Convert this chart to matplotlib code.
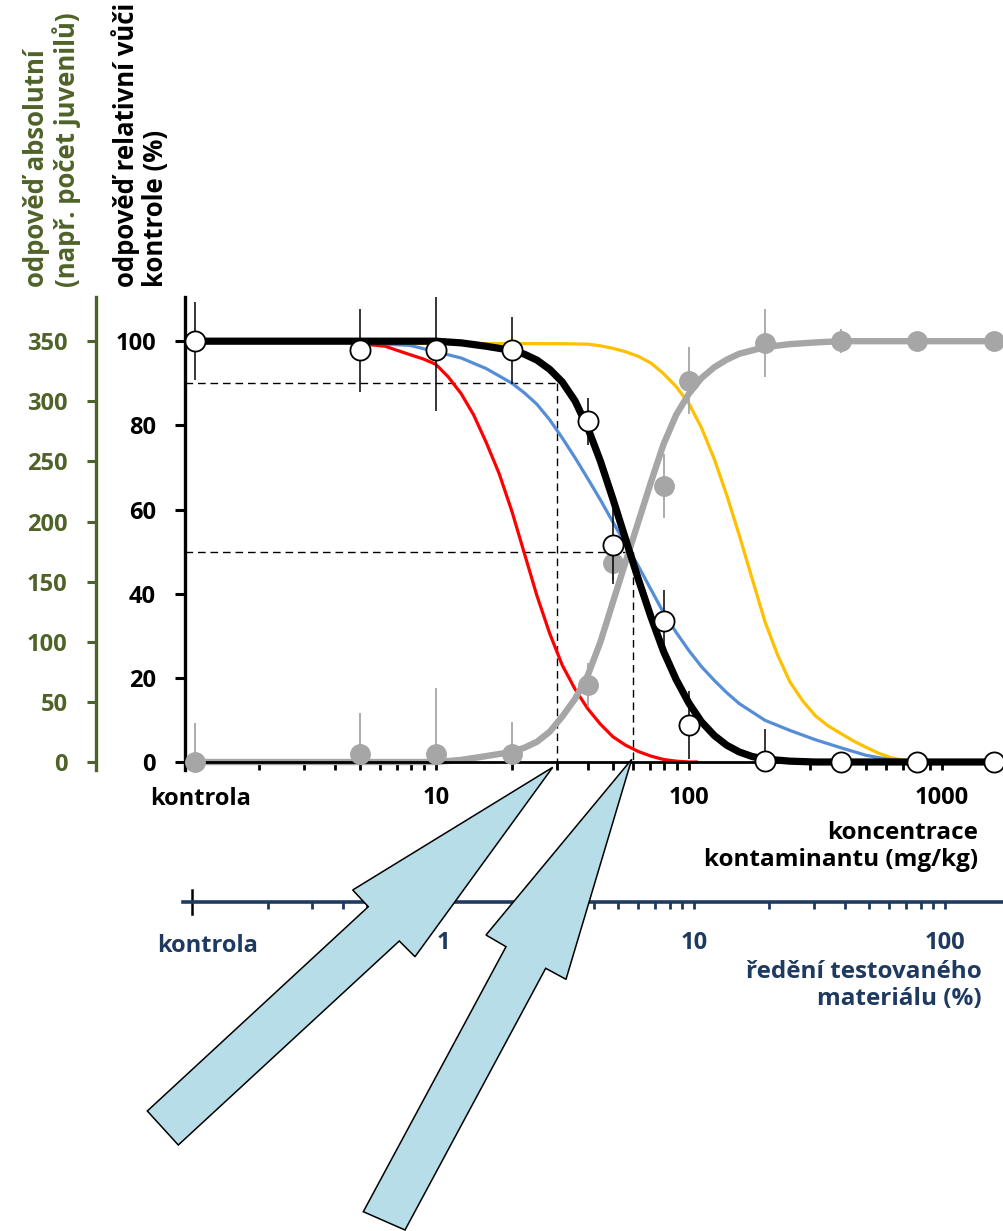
import matplotlib
matplotlib.use("Agg")
from matplotlib import pyplot as plt
import matplotlib.patches as patches
from matplotlib.ticker import FixedLocator, LogLocator, NullFormatter

plt.rcParams['font.family'] = ['Open Sans', 'DejaVu Sans']
plt.rcParams['font.weight'] = 'bold'

W, H = 1004, 1231

green = '#4F6228'
navy = '#1F3A60'
grey = '#A6A6A6'

# tested concentrations (mg/kg); the control is drawn at control_pos on the log axis
control_pos = 1.12
conc = [control_pos, 5, 10, 20, 40, 50, 80, 100, 200, 400, 800, 1600]
rel_resp = [100, 97.8, 97.8, 97.8, 81, 51.5, 33.4, 8.8, 0.3, 0, 0, 0]
rel_err = [9.3, 9.9, 14.5, 8, 5.6, 9.3, 7.5, 8, 7.6, 0, 0, 0]
inc_resp = [0, 2, 2, 2, 18.3, 47.3, 65.6, 90.6, 99.6, 100, 100, 100]
inc_err = [9.3, 9.7, 15.6, 7.6, 5.2, 4, 7.7, 8, 8, 2.8, 0, 0]

# fitted dose-response curves
black_conc = [control_pos, 5, 10, 12.6, 15.8, 20, 22.4, 25.1, 28.2, 31.6, 35.5, 39.8, 44.7,
              50.1, 56.2, 63.1, 70.8, 79.4, 89.1, 100, 112, 126, 141, 158, 178, 200,
              251, 316, 1600]
black_resp = [100, 100, 100, 99.6, 98.8, 97.8, 96.9, 95.5, 93.3, 90.3, 85.8, 79.5, 71.5,
              62.5, 53, 43.5, 34.5, 26.3, 19.6, 14, 9.6, 6.3, 4.0, 2.4, 1.3, 0.7,
              0.2, 0, 0]

grey_conc = [control_pos, 10, 12.6, 15.8, 20, 22.4, 25.1, 28.2, 31.6, 35.5, 39.8, 44.7,
             50.1, 56.2, 63.1, 70.8, 79.4, 89.1, 100, 112, 126, 141, 158, 200, 251,
             316, 398, 1600]
grey_resp = [0, 0, 0.5, 1.4, 2.4, 3.4, 4.8, 7.2, 10.8, 15, 20.5, 28.5,
             38, 47.5, 57, 66.5, 75.5, 82.5, 87.5, 91.2, 93.8, 95.6, 97, 98.6, 99.3,
             99.7, 100, 100]

red_conc = [5, 6.3, 7.9, 8.9, 10, 11.2, 12.6, 14.1, 15.8, 17.8, 20, 22.4, 25.1, 28.2,
            31.6, 35.5, 39.8, 44.7, 50.1, 56.2, 63.1, 70.8, 79.4, 89.1, 100, 107]
red_resp = [99.4, 98.8, 96.8, 95.8, 94.5, 91.5, 87.5, 82.5, 76, 68.5, 59.5, 49.5, 39.5, 30.5,
            23, 17.3, 12.7, 9, 6, 4, 2.5, 1.4, 0.6, 0.2, 0, 0]

blue_conc = [5, 7.9, 10, 12.6, 15.8, 20, 22.4, 25.1, 28.2, 31.6, 35.5, 39.8, 44.7, 50.1,
             56.2, 63.1, 70.8, 79.4, 89.1, 100, 112, 126, 141, 158, 200, 251, 316,
             398, 501, 631, 794]
blue_resp = [99.6, 99, 97.5, 96, 93.5, 90, 87.7, 85, 81.3, 77, 72.3, 67.4, 62.3, 57,
             51.8, 46.6, 41, 35.5, 30.8, 26.5, 22.7, 19.4, 16.5, 13.9, 9.9, 7.5, 5.3,
             3.4, 1.6, 0.5, 0]

yellow_conc = [5, 31.6, 39.8, 44.7, 50.1, 56.2, 63.1, 70.8, 79.4, 89.1, 100, 112, 126,
               141, 158, 178, 200, 224, 251, 282, 316, 355, 398, 447, 501, 562, 631,
               708, 794]
yellow_resp = [99.5, 99.4, 99.3, 98.9, 98.3, 97.5, 96.4, 94.8, 92.3, 89.2, 85.2, 79.5, 72,
               63.5, 54, 43.5, 33.3, 25.5, 19, 14.5, 11, 8.6, 6.8, 5, 3.5, 2.1, 1.0,
               0.4, 0]

# EC10 / EC50 read-outs
ec_levels = [90, 50]
ec_conc = [30, 60]

rel_ticks = [0, 20, 40, 60, 80, 100]
abs_ticks = [0, 50, 100, 150, 200, 250, 300, 350]
abs_max = 350          # absolute response equal to 100 % of control
conc_ticks = [10, 100, 1000]
dil_ticks = [1, 10, 100]
dil_control = 0.1

fig = plt.figure(figsize=(W / 100, H / 100), dpi=100)
fig.patch.set_facecolor('white')


def fx(px):
    return px / W


def fy(py):
    return 1 - py / H


ax = fig.add_axes([fx(185), fy(762), fx(1004 - 185), 465 / H])
ax.set_xscale('log')
xmin = 1.02
ax.set_xlim(xmin, 1760)
ymax = 110.5
ax.set_ylim(0, ymax)
ax.patch.set_visible(False)

for s in ['top', 'right']:
    ax.spines[s].set_visible(False)
ax.spines['left'].set_linewidth(2.4)
ax.spines['left'].set_bounds(-2, ymax)
ax.spines['bottom'].set_linewidth(2)

# dashed read-out lines
for lev, c in zip(ec_levels, ec_conc):
    ax.plot([xmin, c], [lev, lev], color='black', lw=1.0, dashes=(5.5, 3.5), zorder=1.5)
    ax.plot([c, c], [lev, 0], color='black', lw=1.0, dashes=(5.5, 3.5), zorder=1.5)

ax.plot(yellow_conc, yellow_resp, color='#FFC000', lw=2.3, zorder=2, clip_on=False)
ax.plot(blue_conc, blue_resp, color='#558ED5', lw=2.3, zorder=2.1, clip_on=False)
ax.plot(red_conc, red_resp, color='#FF0000', lw=2.3, zorder=2.2, clip_on=False)
ax.plot(grey_conc, grey_resp, color=grey, lw=4.6, zorder=2.5, clip_on=False,
        solid_joinstyle='round')
ax.plot(black_conc, black_resp, color='black', lw=5.2, zorder=3, clip_on=False,
        solid_joinstyle='round')

ax.errorbar(conc, inc_resp, yerr=inc_err, fmt='none', ecolor=grey, elinewidth=1.3, zorder=3.5)
ax.plot(conc, inc_resp, 'o', color=grey, ms=14, mec=grey, zorder=3.6, clip_on=False)
ax.errorbar(conc, rel_resp, yerr=rel_err, fmt='none', ecolor='black', elinewidth=1.1, zorder=3.8)
ax.plot(conc, rel_resp, 'o', mfc='white', mec='black', mew=1.3, ms=14.5, zorder=4, clip_on=False)

ax.set_yticks(rel_ticks)
ax.tick_params(axis='y', direction='out', length=7, width=2.2, pad=14, labelsize=17,
               colors='black')
ax.xaxis.set_major_locator(FixedLocator(conc_ticks))
ax.set_xticklabels([str(t) for t in conc_ticks])
ax.xaxis.set_minor_locator(LogLocator(base=10, subs=range(2, 10)))
ax.xaxis.set_minor_formatter(NullFormatter())
ax.tick_params(axis='x', which='both', direction='out', length=6, width=2, pad=11,
               labelsize=17)

# absolute response axis (green)
axg = ax.twinx()
axg.set_ylim(0, abs_max * ymax / 100)
axg.yaxis.set_ticks_position('left')
for s in ['top', 'right', 'bottom']:
    axg.spines[s].set_visible(False)
axg.spines['left'].set_visible(True)
axg.spines['left'].set_position(('axes', -89 / 819))
axg.spines['left'].set_color(green)
axg.spines['left'].set_linewidth(2.4)
axg.spines['left'].set_bounds(-7, abs_max * ymax / 100)
axg.set_yticks(abs_ticks)
axg.yaxis.set_minor_locator(FixedLocator([0]))
axg.tick_params(axis='y', which='major', direction='out', length=6.5, width=2.2, pad=14,
                labelsize=17, colors=green)
axg.tick_params(axis='y', which='minor', direction='in', length=7, width=2.2, color=green)

# dilution axis (navy)
axd = fig.add_axes([fx(183), fy(901.7 + 20), fx(821), 40 / H])
axd.patch.set_visible(False)
axd.set_xscale('log')
axd.set_xlim(0.092, 172)
axd.set_ylim(-1, 1)
for s in ['top', 'right', 'left']:
    axd.spines[s].set_visible(False)
axd.spines['bottom'].set_position(('data', 0))
axd.spines['bottom'].set_color(navy)
axd.spines['bottom'].set_linewidth(2.6)
axd.set_yticks([])
axd.xaxis.set_major_locator(FixedLocator(dil_ticks))
axd.set_xticklabels([str(t) for t in dil_ticks])
axd.xaxis.set_minor_locator(LogLocator(base=10, subs=range(2, 10)))
axd.xaxis.set_minor_formatter(NullFormatter())
axd.tick_params(axis='x', which='both', direction='out', length=5, width=2, pad=16,
                labelsize=17, colors=navy)
axd.axvline(dil_control, ymin=0.2, ymax=0.8, color='black', lw=1.8)

# texts
fig.text(fx(201), fy(799), 'kontrola', ha='center', va='center', fontsize=17)
fig.text(fx(208), fy(946), 'kontrola', ha='center', va='center', fontsize=17, color=navy)
fig.text(fx(978), fy(821), 'koncentrace\nkontaminantu (mg/kg)', ha='right', va='top',
         multialignment='right', fontsize=17.5, linespacing=1.15)
fig.text(fx(982), fy(960), 'ředění testovaného\nmateriálu (%)', ha='right', va='top',
         multialignment='right', fontsize=17.5, linespacing=1.15, color=navy)
fig.text(fx(52), fy(287), 'odpověď absolutní\n(např. počet juvenilů)', rotation=90,
         ha='center', va='bottom', multialignment='left', fontsize=18.5,
         linespacing=1.1, color=green)
fig.text(fx(140), fy(287), 'odpověď relativní vůči\nkontrole (%)', rotation=90,
         ha='center', va='bottom', multialignment='left', fontsize=18.5,
         linespacing=1.1, color='black')

# block arrows pointing at the EC10 / EC50 concentrations
arrow_fill = '#B7DEE8'
arrow1 = [(552.7, 767.3), (415, 956.7), (399.3, 941), (178.3, 1145), (147.3, 1111),
          (368.3, 906.7), (352.7, 890)]
arrow2 = [(631.7, 759.3), (566, 979.3), (545.7, 968.3), (405, 1230), (363.3, 1211.7),
          (506, 946.7), (486, 935)]
for pts in [arrow1, arrow2]:
    poly = patches.Polygon([(fx(x), fy(y)) for x, y in pts], closed=True,
                           transform=fig.transFigure, facecolor=arrow_fill,
                           edgecolor='black', lw=1.1, zorder=10)
    fig.add_artist(poly)

fig.savefig('out.png', dpi=100, facecolor='white')
